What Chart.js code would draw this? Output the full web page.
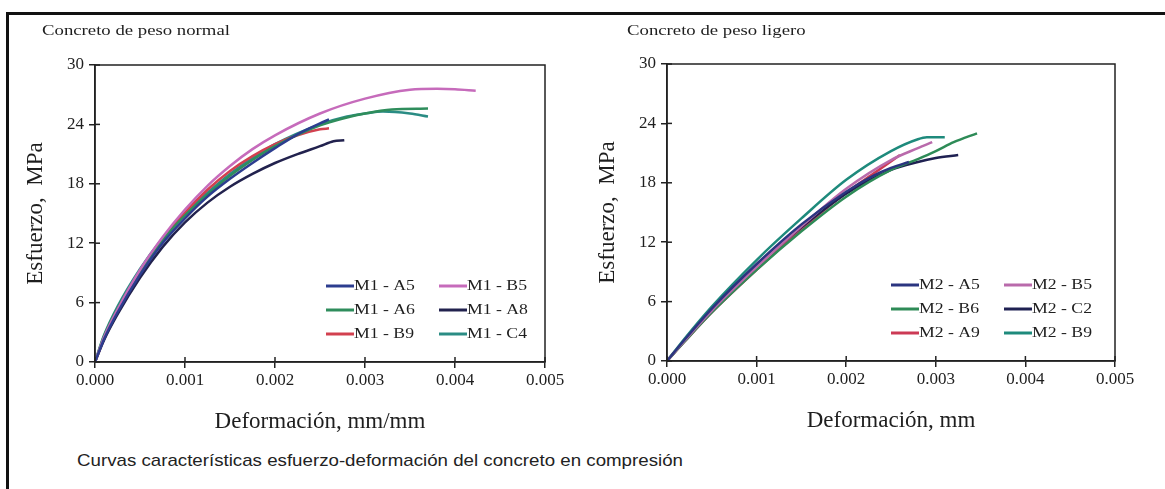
<!DOCTYPE html>
<html>
<head>
<meta charset="utf-8">
<script src="https://cdn.jsdelivr.net/npm/chart.js@4.4.1/dist/chart.umd.min.js"></script>
<style>
  body { margin: 0; background: #fff; width: 1165px; height: 489px; overflow: hidden; position: relative; }
  .marco { position: absolute; left: 6px; top: 12px; right: -10px; bottom: -10px; border-left: 3px solid #111; border-top: 3px solid #111; }
  .graf { position: absolute; top: 0; height: 445px; }
  #cajaIzq { left: 0; width: 580px; }
  #cajaDer { left: 572px; width: 585px; }
  .pie { position: absolute; left: 77px; top: 451px; font: 17px "Liberation Sans", sans-serif; color: #222; white-space: nowrap;
         transform: scaleX(1.1); transform-origin: left center; }
</style>
</head>
<body>
<div class="marco"></div>
<div class="graf" id="cajaIzq"><canvas id="grafIzq"></canvas></div>
<div class="graf" id="cajaDer"><canvas id="grafDer"></canvas></div>
<div class="pie">Curvas características esfuerzo-deformación del concreto en compresión</div>

<script>
// ---- datos: [deformación, esfuerzo MPa] ----
// concreto de peso normal
const m1A5 = [[0,0],[0.0001,2.3],[0.00025,5.0],[0.0005,8.8],[0.00075,12.0],[0.001,14.5],[0.00125,16.7],[0.0015,18.5],[0.00175,20.1],[0.002,21.6],[0.00225,23.0],[0.0025,24.1],[0.0026,24.5]];
const m1B5 = [[0,0],[0.0001,2.5],[0.00025,5.3],[0.0005,9.3],[0.00075,12.6],[0.001,15.4],[0.00125,17.8],[0.0015,19.8],[0.00175,21.5],[0.002,22.9],[0.0025,25.1],[0.003,26.6],[0.0035,27.5],[0.0038,27.6],[0.004,27.55],[0.00423,27.4]];
const m1A6 = [[0,0],[0.0001,2.6],[0.00025,5.4],[0.0005,9.2],[0.00075,12.3],[0.001,14.8],[0.00125,16.9],[0.0015,18.8],[0.00175,20.4],[0.002,21.8],[0.0025,23.9],[0.0028,24.7],[0.003,25.1],[0.0033,25.5],[0.0037,25.6]];
const m1A8 = [[0,0],[0.0001,2.2],[0.00025,4.8],[0.0005,8.5],[0.00075,11.6],[0.001,14.1],[0.00125,16.1],[0.0015,17.7],[0.00175,19.0],[0.002,20.1],[0.00225,21.0],[0.0025,21.8],[0.00265,22.3],[0.00277,22.4]];
const m1B9 = [[0,0],[0.0001,2.3],[0.00025,5.0],[0.0005,9.0],[0.00075,12.4],[0.001,15.1],[0.00125,17.4],[0.0015,19.3],[0.00175,20.8],[0.002,22.0],[0.00225,22.9],[0.0025,23.5],[0.0026,23.6]];
const m1C4 = [[0,0],[0.0001,2.7],[0.00025,5.6],[0.0005,9.4],[0.00075,12.5],[0.001,15.0],[0.00125,17.1],[0.0015,19.0],[0.00175,20.6],[0.002,22.0],[0.0025,24.0],[0.0028,24.8],[0.003,25.1],[0.0032,25.3],[0.0035,25.1],[0.0037,24.8]];

// concreto de peso ligero
const m2A5 = [[0,0],[0.0002,2.2],[0.0005,5.3],[0.001,9.8],[0.0015,13.8],[0.002,17.1],[0.0023,18.7],[0.0025,19.5],[0.0027,20.1]];
const m2B5 = [[0,0],[0.0002,2.1],[0.0005,5.1],[0.001,9.5],[0.0015,13.6],[0.002,17.4],[0.0025,20.3],[0.0028,21.5],[0.00296,22.1]];
const m2B6 = [[0,0],[0.0002,2.0],[0.0005,4.9],[0.001,9.2],[0.0015,13.1],[0.002,16.6],[0.0025,19.3],[0.0028,20.4],[0.003,21.2],[0.0032,22.1],[0.00346,23.0]];
const m2C2 = [[0,0],[0.0002,2.1],[0.0005,5.1],[0.001,9.6],[0.0015,13.5],[0.002,16.9],[0.0025,19.3],[0.0028,20.1],[0.003,20.5],[0.00325,20.8]];
const m2A9 = [[0,0],[0.0002,2.0],[0.0005,4.9],[0.001,9.2],[0.0015,13.3],[0.002,17.0],[0.0023,18.9],[0.0026,20.8]];
const m2B9 = [[0,0],[0.0002,2.3],[0.0005,5.5],[0.001,10.2],[0.0015,14.4],[0.002,18.3],[0.0025,21.2],[0.0028,22.4],[0.0029,22.6],[0.0031,22.6]];

const etiquetasM1 = ['M1 - A5', 'M1 - B5', 'M1 - A6', 'M1 - A8', 'M1 - B9', 'M1 - C4'];
const etiquetasM2 = ['M2 - A5', 'M2 - B5', 'M2 - B6', 'M2 - C2', 'M2 - A9', 'M2 - B9'];
const coloresM1 = ['#2c3d8f', '#c66bbb', '#2f8d5c', '#22224e', '#d2404f', '#2a8c84'];
const coloresM2 = ['#2b3580', '#b96aab', '#2e8b57', '#1f2152', '#cc3a55', '#1e8a7c'];
const ticksX = ['0.000', '0.001', '0.002', '0.003', '0.004', '0.005'];
const ticksY = [0, 6, 12, 18, 24, 30];

const tinta = '#1e1e1e';
const serif = '"Liberation Serif", "Times New Roman", serif';

// texto estirado a lo ancho, como en la imagen original
function textoAncho(ctx, txt, x, y, k) {
  ctx.save();
  ctx.translate(x, y);
  ctx.scale(k, 1);
  ctx.fillText(txt, 0, 0);
  ctx.restore();
}

// marco, ticks hacia adentro, subtitulo y leyenda de dos columnas
const extras = {
  id: 'extras',
  afterDraw(chart, args, opts) {
    const { ctx, chartArea: a, scales } = chart;
    ctx.save();
    ctx.strokeStyle = '#222';
    ctx.lineWidth = 1.5;
    ctx.strokeRect(a.left, a.top, a.right - a.left, a.bottom - a.top);
    scales.x.ticks.forEach(t => {
      const px = scales.x.getPixelForValue(t.value);
      ctx.beginPath(); ctx.moveTo(px, a.bottom); ctx.lineTo(px, a.bottom - 5); ctx.stroke();
    });
    scales.y.ticks.forEach(t => {
      const py = scales.y.getPixelForValue(t.value);
      ctx.beginPath(); ctx.moveTo(a.left, py); ctx.lineTo(a.left + 5, py); ctx.stroke();
    });

    ctx.fillStyle = tinta;
    ctx.textBaseline = 'middle';
    ctx.textAlign = 'left';
    ctx.font = '15px ' + serif;
    textoAncho(ctx, opts.subtitulo, a.left + opts.subX, a.top + opts.subY, 1.25);

    chart.data.datasets.forEach((ds, i) => {
      const x = a.left + opts.leyX + (i % 2) * opts.leyDx;
      const y = a.bottom - opts.leyY + Math.floor(i / 2) * opts.leyDy;
      ctx.strokeStyle = ds.borderColor;
      ctx.lineWidth = 3;
      ctx.beginPath(); ctx.moveTo(x, y); ctx.lineTo(x + 28, y); ctx.stroke();
      textoAncho(ctx, ds.label, x + 28, y, 1.18);
    });
    ctx.restore();
  }
};

function crearGrafico(id, series, etiquetas, colores, tituloX, pad, extrasOpts) {
  const ctx = document.getElementById(id).getContext('2d');
  return new Chart(ctx, {
    type: 'line',
    data: {
      datasets: series.map((s, i) => ({
        label: etiquetas[i],
        data: s.map(p => ({ x: p[0], y: p[1] })),
        borderColor: colores[i],
        borderWidth: 2.5,
        pointRadius: 0,
        cubicInterpolationMode: 'monotone',
        fill: false
      }))
    },
    options: {
      responsive: true,
      maintainAspectRatio: false,
      animation: false,
      layout: { padding: pad },
      plugins: {
        legend: { display: false },
        tooltip: { enabled: false },
        extras: extrasOpts
      },
      scales: {
        x: {
          type: 'linear',
          min: 0, max: 0.005,
          afterFit: s => { s.height = 80; },
          afterBuildTicks: s => { s.ticks = ticksX.map(v => ({ value: parseFloat(v) })); },
          ticks: {
            callback: (v, i) => ticksX[i],
            color: tinta, font: { family: serif, size: 17 }, padding: 2, maxRotation: 0
          },
          grid: { display: true, drawOnChartArea: false, tickLength: 6, color: '#222', lineWidth: 1.5 },
          border: { display: true, color: '#222', width: 1.5 },
          title: { display: true, text: tituloX, color: tinta, font: { family: serif, size: 23 }, padding: { top: 0, bottom: 6 } }
        },
        y: {
          min: 0, max: 30,
          afterFit: s => { s.width = 95; },
          afterBuildTicks: s => { s.ticks = ticksY.map(v => ({ value: v })); },
          ticks: { color: tinta, font: { family: serif, size: 17 }, padding: 5 },
          grid: { display: true, drawOnChartArea: false, tickLength: 6, color: '#222', lineWidth: 1.5 },
          border: { display: true, color: '#222', width: 1.5 },
          title: { display: true, text: 'Esfuerzo,  MPa', color: tinta, font: { family: serif, size: 23 }, padding: { top: 22, bottom: 0 } }
        }
      }
    },
    plugins: [extras]
  });
}

crearGrafico('grafIzq', [m1A5, m1B5, m1A6, m1A8, m1B9, m1C4], etiquetasM1, coloresM1,
  'Deformación, mm/mm', { left: 0, top: 65, right: 35, bottom: 3 },
  { subtitulo: 'Concreto de peso normal', subX: -53, subY: -34, leyX: 231, leyDx: 113, leyY: 76, leyDy: 24 });

crearGrafico('grafDer', [m2A5, m2B5, m2B6, m2C2, m2A9, m2B9], etiquetasM2, coloresM2,
  'Deformación, mm', { left: 0, top: 64, right: 42, bottom: 4 },
  { subtitulo: 'Concreto de peso ligero', subX: -40, subY: -33, leyX: 224, leyDx: 113, leyY: 76, leyDy: 24 });
</script>
</body>
</html>
